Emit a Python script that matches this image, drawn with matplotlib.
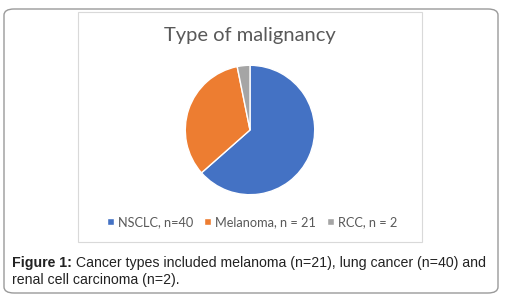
import matplotlib
matplotlib.use("Agg")
import matplotlib.pyplot as plt
from matplotlib.patches import FancyBboxPatch, Rectangle

labels = ["NSCLC, n=40", "Melanoma, n = 21", "RCC, n = 2"]
counts = [40, 21, 2]
colors = ["#4472C4", "#ED7D31", "#A5A5A5"]
title = "Type of malignancy"
cap_bold = "Figure 1:"
cap_rest = " Cancer types included melanoma (n=21), lung cancer (n=40) and"
cap_line2 = "renal cell carcinoma (n=2)."

W, H = 505, 305
fig = plt.figure(figsize=(W / 100, H / 100), dpi=100)
fig.patch.set_facecolor("white")

def px(x, y):
    # pixel coords (top-left origin) -> figure fraction
    return x / W, 1 - y / H

# outer rounded frame
x0, y0 = px(4, 293)
fig.patches.append(FancyBboxPatch((x0, y0), 494 / W, 284 / H,
                                  boxstyle="round,pad=0,rounding_size=0.02",
                                  transform=fig.transFigure, fill=False,
                                  edgecolor="#9a9a9a", linewidth=1.0))
# inner chart frame
x1, y1 = px(78, 242)
fig.patches.append(Rectangle((x1, y1), 344 / W, 230 / H, transform=fig.transFigure,
                             fill=False, edgecolor="#d9d9d9", linewidth=0.8))

# pie
cx, cy, r = 250, 130, 66
ax = fig.add_axes([(cx - r) / W, 1 - (cy + r) / H, 2 * r / W, 2 * r / H])
wedges, _ = ax.pie(counts, colors=colors, startangle=90, counterclock=False,
                   wedgeprops=dict(edgecolor="white", linewidth=1.0))
ax.set_xlim(-1.02, 1.02)
ax.set_ylim(-1.02, 1.02)
ax.set_aspect("equal")
ax.axis("off")

# title
tx, ty = px(250, 36)
fig.text(tx, ty, title, ha="center", va="center", fontsize=14.5,
         color="#595959", family="Lato")

# legend
leg = fig.legend(wedges, labels, loc="center", bbox_to_anchor=px(252, 222),
                 ncol=3, frameon=False, handlelength=0.55,
                 handleheight=0.55, handletextpad=0.3, columnspacing=0.85,
                 prop={"family": "Lato", "size": 9.2})
for t in leg.get_texts():
    t.set_color("#595959")

# caption
fig.canvas.draw()
renderer = fig.canvas.get_renderer()
bx, by = px(12, 263)
tb = fig.text(bx, by, cap_bold, ha="left", va="center", fontsize=10.15,
              fontweight="bold", family="Liberation Sans", color="#222222")
bb = tb.get_window_extent(renderer)
fig.text((bb.x1) / W, by, cap_rest, ha="left", va="center", fontsize=10.15,
         family="Liberation Sans", color="#222222")
lx, ly = px(12, 280)
fig.text(lx, ly, cap_line2, ha="left", va="center", fontsize=10.15,
         family="Liberation Sans", color="#222222")

fig.savefig("out.png", dpi=100)
